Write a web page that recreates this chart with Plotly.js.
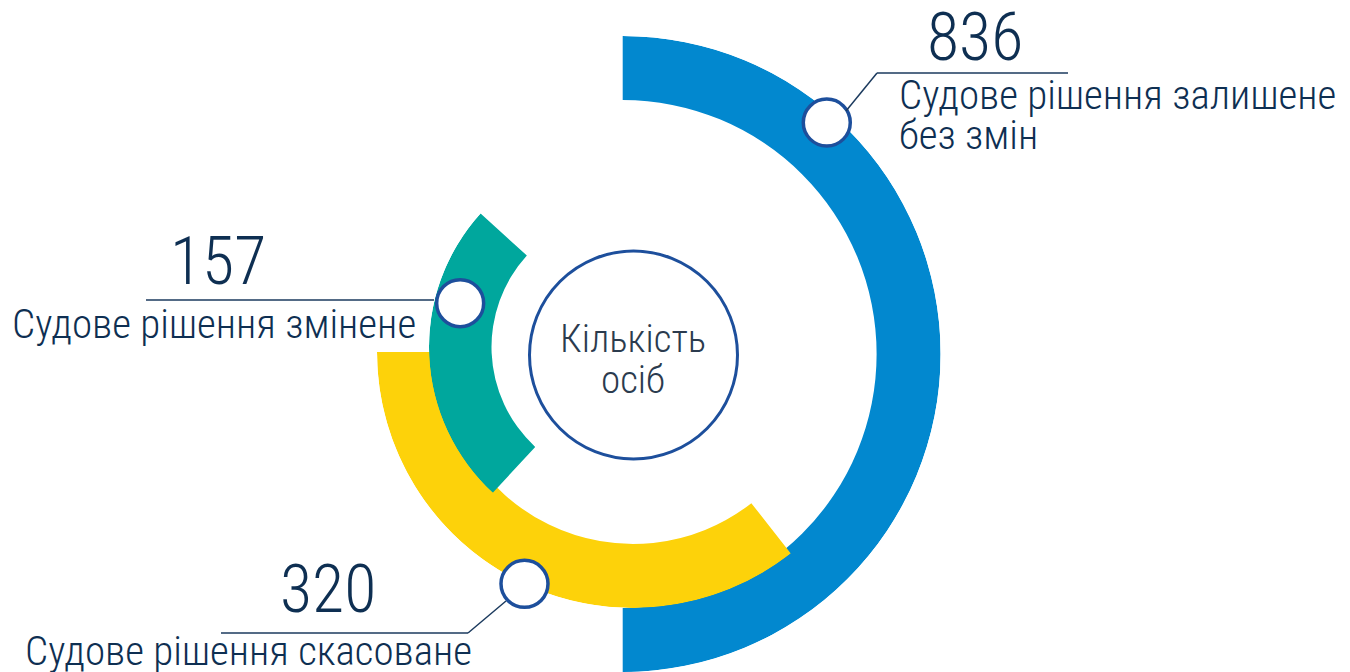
<!DOCTYPE html>
<html>
<head>
<meta charset="utf-8">
<script src="https://cdn.plot.ly/plotly-3.0.1.min.js"></script>
<style>html,body{margin:0;padding:0;background:#fff;}#chart{width:1350px;height:672px;}</style>
</head>
<body>
<div id="chart"></div>
<script>
// ---------- data ----------
const categories = ['Судове рішення залишене без змін', 'Судове рішення скасоване', 'Судове рішення змінене'];
const labelLines = [['Судове рішення залишене', 'без змін'], ['Судове рішення скасоване'], ['Судове рішення змінене']];
const values = [836, 320, 157];
const centerTitle = ['Кількість', 'осіб'];

// ---------- style / layout config ----------
const W = 1350, H = 672;
const px = x => x / W;
const py = y => 1 - y / H;
const FONT = 'Roboto Condensed, Roboto, sans-serif';
const TEXT = '#0e2f52';
const RING_LINE = '#1d4f9c';

const rings = [
  {cx: 622.7, cy: 354, R: 318, inner: 254, color: '#0288cf', start: 90, dir: -1, markR: 308.6, markF: 0.23,
   num: {x: 974.7, y: 37.9}, lab: [{x: 897, y: 95.4}, {x: 897, y: 134.8}],
   lead: [[1068, 73, 877, 73], [877, 73, 846, 111]]},
  {cx: 633, cy: 352, R: 256, inner: 192, color: '#fdd20a', start: 180, dir: 1, markR: 256, markF: 0.507,
   num: {x: 327.6, y: 589.2}, lab: [{x: 23, y: 651}],
   lead: [[221, 633, 468, 633], [468, 633, 506, 601]]},
  {cx: 627.5, cy: 347, R: 198.5, inner: 136, color: '#00a79d', center: 182.5, markR: 173, markF: 0.308,
   num: {x: 218.3, y: 261.3}, lab: [{x: 10, y: 324.4}],
   lead: [[146, 300, 434, 300]]}
];

// angular scale: log scale mapped so that the largest value spans 180 degrees
const LOG_MIN = 30;
const maxV = Math.max(...values);
const sweep = v => 180 * Math.log(v / LOG_MIN) / Math.log(maxV / LOG_MIN);

const traces = [];
const layout = {
  width: W, height: H,
  margin: {l: 0, r: 0, t: 0, b: 0},
  paper_bgcolor: '#fff',
  showlegend: false,
  annotations: [],
  shapes: []
};

values.forEach((v, i) => {
  const g = rings[i];
  const s = sweep(v);
  let a0, a1;
  if (g.center !== undefined) { a0 = g.center - s / 2; a1 = g.center + s / 2; }
  else { a0 = g.start; a1 = g.start + g.dir * s; }
  const id = i === 0 ? 'polar' : 'polar' + (i + 1);
  layout[id] = {
    domain: {x: [px(g.cx - g.R), px(g.cx + g.R)], y: [py(g.cy + g.R), py(g.cy - g.R)]},
    bgcolor: 'rgba(0,0,0,0)',
    radialaxis: {visible: false, range: [0, g.R], showgrid: false, showline: false, ticks: ''},
    angularaxis: {visible: false, showgrid: false, showline: false, ticks: ''},
    hole: 0
  };
  traces.push({
    type: 'barpolar', subplot: id,
    name: categories[i],
    theta: [(a0 + a1) / 2], width: [Math.abs(a1 - a0)],
    base: [g.inner], r: [g.R - g.inner],
    marker: {color: g.color, line: {width: 0}},
    hoverinfo: 'skip'
  });
  traces.push({
    type: 'scatterpolar', subplot: id, mode: 'markers', cliponaxis: false,
    r: [g.markR], theta: [a0 + (a1 - a0) * g.markF],
    marker: {size: 47, color: '#fff', line: {color: RING_LINE, width: 3.5}},
    hoverinfo: 'skip'
  });
  // value
  layout.annotations.push({
    xref: 'paper', yref: 'paper', x: px(g.num.x), y: py(g.num.y), xanchor: 'center', yanchor: 'middle',
    text: String(v), showarrow: false, font: {family: FONT, size: 66, color: TEXT, weight: 300}
  });
  // label
  labelLines[i].forEach((t, k) => {
    layout.annotations.push({
      xref: 'paper', yref: 'paper', x: px(g.lab[k].x), y: py(g.lab[k].y), xanchor: 'left', yanchor: 'middle',
      text: t, showarrow: false, font: {family: FONT, size: 41, color: TEXT, weight: 300}
    });
  });
  g.lead.forEach(l => {
    layout.shapes.push({type: 'line', xref: 'paper', yref: 'paper',
      x0: px(l[0]), y0: py(l[1]), x1: px(l[2]), y1: py(l[3]),
      line: {color: '#1b3a5e', width: 1.5}});
  });
});

// central circle
layout.shapes.push({type: 'circle', xref: 'paper', yref: 'paper',
  x0: px(633.5 - 104), x1: px(633.5 + 104), y0: py(355 + 104), y1: py(355 - 104),
  line: {color: RING_LINE, width: 3}, fillcolor: 'rgba(0,0,0,0)'});
[338.8, 379.5].forEach((y, k) => {
  layout.annotations.push({
    xref: 'paper', yref: 'paper', x: px(632.5), y: py(y), xanchor: 'center', yanchor: 'middle',
    text: centerTitle[k], showarrow: false, font: {family: FONT, size: 39, color: '#2b3b4e', weight: 300}
  });
});

Plotly.newPlot('chart', traces, layout, {staticPlot: true, displayModeBar: false});
</script>
</body>
</html>
